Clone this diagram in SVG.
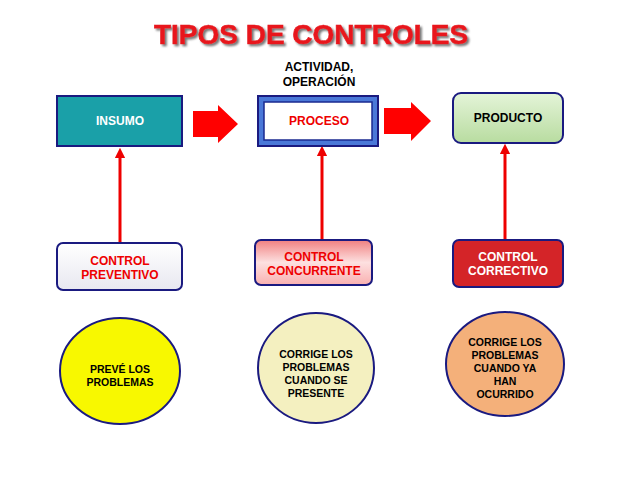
<svg xmlns="http://www.w3.org/2000/svg" width="638" height="479" viewBox="0 0 638 479">
<defs>
<style>
text{font-family:"Liberation Sans",Arial,sans-serif;font-weight:bold;text-anchor:middle}
.s{font-size:12px}
.e{stroke:#1a1a80;stroke-width:2}
.c{stroke:#e00;stroke-width:3}
</style>
<filter id="sh" x="-10%" y="-30%" width="120%" height="160%"><feDropShadow dx="2" dy="2" stdDeviation="0.8" flood-color="#777"/></filter>
<linearGradient id="gp" x1="0" y1="0" x2="0" y2="1"><stop offset="0" stop-color="#fff"/><stop offset="1" stop-color="#e8e8f0"/></linearGradient>
<linearGradient id="gc" x1="0" y1="0" x2="0" y2="1"><stop offset="0" stop-color="#f08080"/><stop offset="0.5" stop-color="#fde0e0"/><stop offset="1" stop-color="#f9b0b0"/></linearGradient>
<linearGradient id="gg" x1="0" y1="0" x2="0" y2="1"><stop offset="0" stop-color="#e4f4d8"/><stop offset="1" stop-color="#b8dca0"/></linearGradient>
<marker id="ah" viewBox="0 0 10 10" refX="5" refY="5" markerWidth="3.5" markerHeight="3.5" orient="auto"><path d="M0,0L10,5L0,10z" fill="#e00"/></marker>
</defs>
<text x="311" y="44" font-size="28" fill="#e8141c" stroke="#e8141c" stroke-width="0.6" filter="url(#sh)">TIPOS DE CONTROLES</text>
<text x="319" y="71" class="s">ACTIVIDAD,</text>
<text x="319" y="86" class="s">OPERACIÓN</text>
<g id="connectors">
<path d="M193,111H218V105L238,124L218,143V137H193z" fill="#f00"/>
<path d="M384,108H411V102L431,121L411,141V134H384z" fill="#f00"/>
<line x1="120" y1="243" x2="120" y2="153" class="c" marker-end="url(#ah)"/>
<line x1="322" y1="239" x2="322" y2="151" class="c" marker-end="url(#ah)"/>
<line x1="505" y1="239" x2="505" y2="149" class="c" marker-end="url(#ah)"/>
</g>
<g id="insumo"><rect x="57" y="96" width="125" height="50" fill="#1aa0a8" class="e"/><text x="120" y="125" class="s" fill="#fff">INSUMO</text></g>
<g id="proceso"><rect x="258" y="96" width="120" height="50" fill="#4a78d8" class="e"/><rect x="264" y="102" width="108" height="38" fill="#fff" stroke="#1a2a90" stroke-width="1.5"/><text x="319" y="125" class="s" fill="#e00">PROCESO</text></g>
<g id="producto"><rect x="453" y="93" width="110" height="50" rx="8" fill="url(#gg)" class="e"/><text x="508" y="122" class="s">PRODUCTO</text></g>
<g id="preventivo"><rect x="57" y="243" width="125" height="47" rx="6" fill="url(#gp)" class="e"/><text x="120" y="265" class="s" fill="#e00">CONTROL</text><text x="120" y="279" class="s" fill="#e00">PREVENTIVO</text></g>
<g id="concurrente"><rect x="255" y="240" width="117" height="45" rx="6" fill="url(#gc)" class="e"/><text x="314" y="261" class="s" fill="#e00">CONTROL</text><text x="314" y="275" class="s" fill="#e00">CONCURRENTE</text></g>
<g id="correctivo"><rect x="453" y="240" width="110" height="47" rx="6" fill="#d42428" class="e"/><text x="508" y="261" class="s" fill="#fff">CONTROL</text><text x="508" y="275" class="s" fill="#fff">CORRECTIVO</text></g>
<g id="e1"><ellipse cx="120" cy="371" rx="60" ry="53" fill="#f8f800" class="e"/><text x="120" y="373" font-size="10.5">PREVÉ LOS</text><text x="120" y="386" font-size="10.5">PROBLEMAS</text></g>
<g id="e2"><ellipse cx="316" cy="368" rx="58" ry="55" fill="#f4f0c0" class="e"/><text x="316" y="358" font-size="10.5">CORRIGE LOS</text><text x="316" y="371" font-size="10.5">PROBLEMAS</text><text x="316" y="384" font-size="10.5">CUANDO SE</text><text x="316" y="397" font-size="10.5">PRESENTE</text></g>
<g id="e3"><ellipse cx="505" cy="364" rx="59" ry="52" fill="#f4b07a" class="e"/><text x="505" y="346" font-size="10.5">CORRIGE LOS</text><text x="505" y="359" font-size="10.5">PROBLEMAS</text><text x="505" y="372" font-size="10.5">CUANDO YA</text><text x="505" y="385" font-size="10.5">HAN</text><text x="505" y="398" font-size="10.5">OCURRIDO</text></g>
</svg>
